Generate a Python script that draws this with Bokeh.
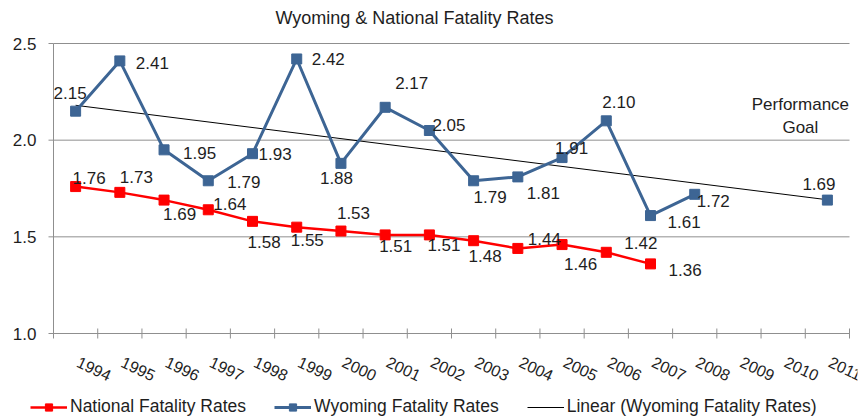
import math
import numpy as np
from bokeh.plotting import figure
from bokeh.models import ColumnDataSource, Label, Legend, LegendItem, Range1d
from bokeh.core.properties import value
from bokeh.embed import file_html
from bokeh.resources import INLINE

NaN = float("nan")

title_text = "Wyoming & National Fatality Rates"
years = ["1994", "1995", "1996", "1997", "1998", "1999", "2000", "2001", "2002",
         "2003", "2004", "2005", "2006", "2007", "2008", "2009", "2010", "2011"]
national = [1.76, 1.73, 1.69, 1.64, 1.58, 1.55, 1.53, 1.51, 1.51, 1.48, 1.44,
            1.46, 1.42, 1.36, NaN, NaN, NaN, NaN]
wyoming = [2.15, 2.41, 1.95, 1.79, 1.93, 2.42, 1.88, 2.17, 2.05, 1.79, 1.81,
           1.91, 2.10, 1.61, 1.72, NaN, NaN, 1.69]
y_ticks = [1.0, 1.5, 2.0, 2.5]
series_names = ["National Fatality Rates", "Wyoming Fatality Rates",
                "Linear (Wyoming Fatality Rates)"]
goal_text = "Performance\nGoal"

# label placement (screen px relative to each point)
wy_dx = [-22, 16, 19, 19, 6, 15, -21, 10, 3, 0, 9, -7, -4, 17, 2, 0, 0, -25]
wy_dy = [-18, 2, 3, 1, 0, 0, 15, -24, -6, 16, 16, -10, -19, 6, 7, 0, 0, -16]
na_dx = [-3, 0, -1, 5, -5, -6, -4, -6, -2, -5, 10, 2, 18, 18, 0, 0, 0, 0]
na_dy = [-9, -15, 14, -6, 21, 13, -18, 11, 10, 15, -9, 19, -9, 6, 0, 0, 0, 0]

FONT = "Liberation Sans"
BLUE = "#3d6594"
RED = "#ff0000"
TXT = "#1e1e1e"
GRID = "#8f8f8f"

# layout (page pixels)
W, H = 864, 417
FL, FR, FT, FB = 5, 857, 31, 417          # drawing frame
AL, AR, AT, AB = 53, 849, 43, 333         # plot area left/right/top/bottom
n = len(years)
PX_X = (AR - AL) / n
PX_Y = (AB - AT) / (y_ticks[-1] - y_ticks[0])
TICK = 5

xs = [i + 0.5 for i in range(n)]
x_start = -(AL - FL) / PX_X
x_end = n + (FR - AR) / PX_X
y_start = y_ticks[0] - (FB - AB) / PX_Y
y_end = y_ticks[-1] + (AT - FT) / PX_Y

p = figure(frame_width=FR - FL, frame_height=FB - FT, output_backend="svg",
           toolbar_location=None,
           x_range=Range1d(x_start, x_end), y_range=Range1d(y_start, y_end),
           min_border_left=FL, min_border_right=W - FR, min_border_top=FT,
           min_border_bottom=0)
p.outline_line_color = None
p.background_fill_color = "white"
p.border_fill_color = "white"
p.xaxis.visible = False
p.yaxis.visible = False
p.xgrid.visible = False
p.ygrid.visible = False

p.title.text = title_text
p.title.align = "left"
p.title.offset = 275 - FL
p.title.text_font = FONT
p.title.text_font_size = "18px"
p.title.text_font_style = "normal"
p.title.text_color = TXT
p.title.standoff = 8

# grid lines, axis lines and ticks
grid_y = y_ticks[1:]
p.segment(x0=[0] * len(grid_y), y0=grid_y, x1=[n] * len(grid_y), y1=grid_y,
          line_color=GRID, line_width=1)
p.segment(x0=[0, 0], y0=[y_ticks[0], y_ticks[0]], x1=[n, 0], y1=[y_ticks[0], y_ticks[-1]],
          line_color=GRID, line_width=1)
bounds = list(range(n + 1))
p.segment(x0=bounds, y0=[y_ticks[0] - TICK / PX_Y] * len(bounds),
          x1=bounds, y1=[y_ticks[0] + TICK / PX_Y] * len(bounds),
          line_color=GRID, line_width=1)
p.segment(x0=[-TICK / PX_X] * len(y_ticks), y0=y_ticks, x1=[0] * len(y_ticks), y1=y_ticks,
          line_color=GRID, line_width=1)

# axis labels
p.text(x=[0] * len(y_ticks), y=y_ticks, text=[f"{v:.1f}" for v in y_ticks],
       x_offset=-17, text_font=value(FONT), text_font_size="17px", text_color=TXT,
       text_align="right", text_baseline="middle")
p.text(x=xs, y=[y_ticks[0]] * n, text=years, angle=-0.44, x_offset=5, y_offset=22,
       text_font=value(FONT), text_font_size="16px", text_color=TXT,
       text_align="left", text_baseline="top")

# trend line (least-squares fit of the Wyoming series, as in the original)
wx = np.array([x for x, v in zip(xs, wyoming) if not math.isnan(v)])
wv = np.array([v for v in wyoming if not math.isnan(v)])
coef = np.polyfit(wx, wv, 1)
tx = [float(wx[0]), float(wx[-1])]
ty = [float(v) for v in np.polyval(coef, tx)]
r_trend = p.line(tx, ty, line_color="black", line_width=1)

src = ColumnDataSource(dict(
    x=xs, nat=national, wy=wyoming,
    nat_lab=["" if math.isnan(v) else f"{v:.2f}" for v in national],
    wy_lab=["" if math.isnan(v) else f"{v:.2f}" for v in wyoming],
    wy_dx=wy_dx, wy_dy=wy_dy, na_dx=na_dx, na_dy=na_dy,
))

r_wl = p.line("x", "wy", source=src, line_color=BLUE, line_width=3)
r_wm = p.scatter("x", "wy", source=src, marker="square", size=10,
                 fill_color=BLUE, line_color=BLUE)
r_nl = p.line("x", "nat", source=src, line_color=RED, line_width=2.5)
r_nm = p.scatter("x", "nat", source=src, marker="square", size=10,
                 fill_color=RED, line_color=RED)

p.text("x", "wy", text="wy_lab", source=src, x_offset="wy_dx", y_offset="wy_dy",
       text_font=value(FONT), text_font_size="17px", text_color=TXT,
       text_align="left", text_baseline="middle")
p.text("x", "nat", text="nat_lab", source=src, x_offset="na_dx", y_offset="na_dy",
       text_font=value(FONT), text_font_size="17px", text_color=TXT,
       text_align="left", text_baseline="middle")

# performance goal note, anchored to the last Wyoming point
p.add_layout(Label(x=float(wx[-1]), y=float(wv[-1]), x_offset=-27, y_offset=84,
                   text=goal_text,
                   text_font=FONT, text_font_size="17px", text_color=TXT,
                   text_align="center", text_baseline="middle"))

legend = Legend(items=[
    LegendItem(label=series_names[0], renderers=[r_nl, r_nm]),
    LegendItem(label=series_names[1], renderers=[r_wl, r_wm]),
    LegendItem(label=series_names[2], renderers=[r_trend]),
], orientation="horizontal", location=(30 - FL, 0))
legend.glyph_width = 37
legend.glyph_height = 18
legend.label_standoff = 3
legend.spacing = 28
legend.padding = 0
legend.margin = 0
legend.border_line_color = None
legend.background_fill_alpha = 0
legend.label_text_font = FONT
legend.label_text_font_size = "17.5px"
legend.label_text_color = TXT
p.add_layout(legend, "center")

open("out.html", "w").write(file_html(p, INLINE))
